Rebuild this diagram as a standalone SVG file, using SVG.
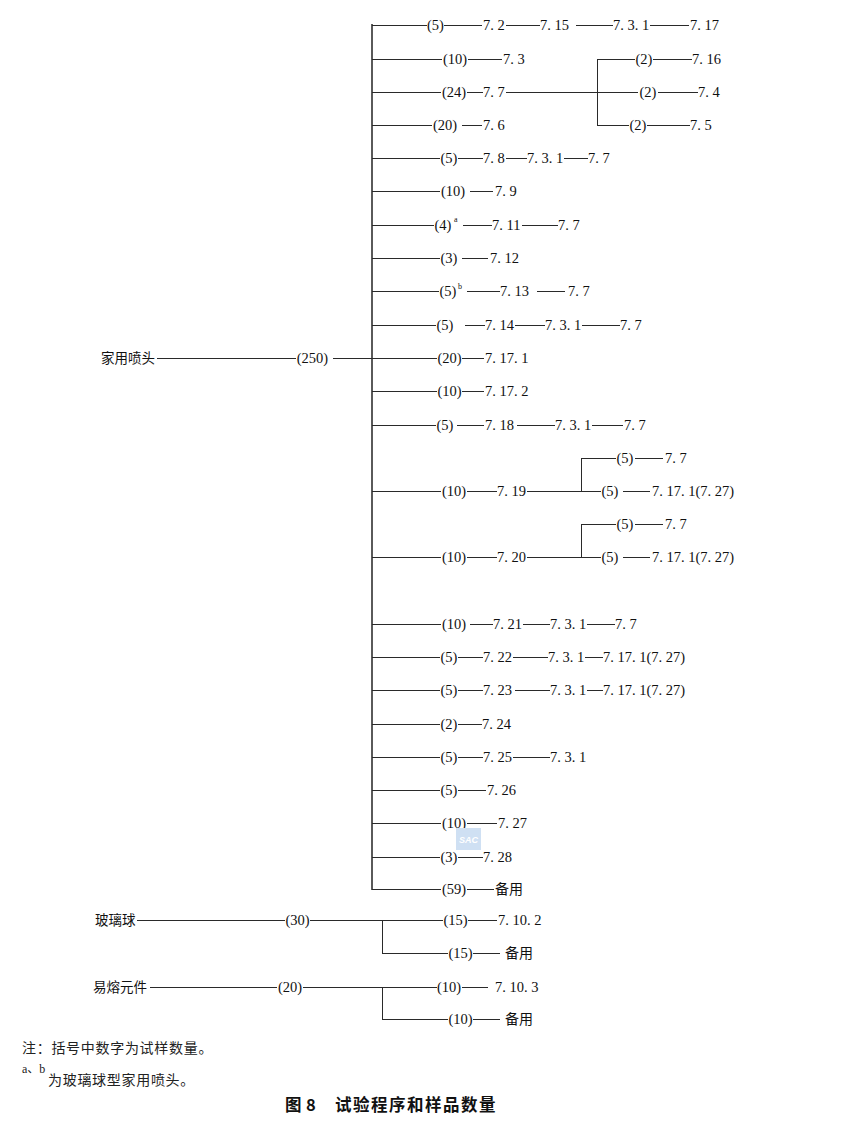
<svg xmlns="http://www.w3.org/2000/svg" width="852" height="1123" viewBox="0 0 852 1123">
<style>
.ln{stroke:#2a2a2a;stroke-width:1;fill:none}
.tr{stroke:#5a5a5a;stroke-width:2;fill:none}
.n{font-family:"Liberation Serif",serif;font-size:14.5px;fill:#111}
.c{text-anchor:middle}
.sup{font-family:"Liberation Serif",serif;font-size:8px;fill:#111}
.cj{font-family:"Liberation Serif","Noto Sans CJK SC",sans-serif;font-size:13.5px;fill:#111}
.by{font-family:"Liberation Serif","Noto Sans CJK SC",sans-serif;font-size:14px;fill:#111}
.note{font-family:"Noto Sans CJK SC",sans-serif;font-size:14px;fill:#222;letter-spacing:0.7px}
.ttl{font-family:"Noto Sans CJK SC",sans-serif;font-size:16.5px;fill:#111;font-weight:bold}
</style>
<rect width="852" height="1123" fill="#fff"/>
<g id="connectors">
<path class="tr" d="M372 24V890"/>
<g transform="translate(0,0.5)">
<path class="ln" d="M372 25H427M444 25H482M506 25H540M576 25H613M650 25H689"/>
<path class="ln" d="M372 59H442M468 59H502"/>
<path class="ln" d="M372 92H441M467 92H483M506 92H638M658 92H698"/>
<path class="ln" d="M597.5 59V125M597 59H635M653 59H692M597 125H629M647 125H690"/>
<path class="ln" d="M372 125H432M462 125H482"/>
<path class="ln" d="M372 158H440M458 158H483M506 158H527M564 158H588"/>
<path class="ln" d="M372 191H440M470 191H493"/>
<path class="ln" d="M372 225H434M463 225H492M522 225H558"/>
<path class="ln" d="M372 258H440M462 258H488"/>
<path class="ln" d="M372 291H439M467 291H500M537 291H565"/>
<path class="ln" d="M372 325H436M465 325H485M515 325H545M582 325H620"/>
<path class="ln" d="M157 358H296M333 358H437M462 358H484"/>
<path class="ln" d="M372 391H437M462 391H484"/>
<path class="ln" d="M372 425H436M457 425H484M517 425H555M592 425H623"/>
<path class="ln" d="M372 491H441M467 491H497M527 491H581M581.5 458V491M581 458H616M635 458H663M581 491H601M623 491H650"/>
<path class="ln" d="M372 557H441M467 557H497M527 557H581M581.5 524V557M581 524H616M635 524H663M581 557H601M623 557H650"/>
<path class="ln" d="M372 624H441M470 624H493M523 624H550M587 624H615"/>
<path class="ln" d="M372 657H440M458 657H483M513 657H548M585 657H603"/>
<path class="ln" d="M372 690H440M458 690H483M515 690H550M587 690H603"/>
<path class="ln" d="M372 724H440M458 724H482"/>
<path class="ln" d="M372 757H440M458 757H483M513 757H550"/>
<path class="ln" d="M372 790H440M458 790H486"/>
<path class="ln" d="M372 823H441M467 823H497"/>
<path class="ln" d="M372 857H440M458 857H483"/>
<path class="ln" d="M372 889H441M467 889H494"/>
<path class="ln" d="M137 920H285M310 920H443M468 920H497M382.5 920V953M382 953H448M473 953H500"/>
<path class="ln" d="M150 987H277M303 987H437M462 987H488M382.5 987V1019M382 1019H448M473 1019H500"/>
</g>
</g>
<g id="r1"><text class="n c" x="435.5" y="30">(5)</text><text class="n" x="483" y="30">7. 2</text><text class="n" x="540" y="30">7. 15</text><text class="n" x="613" y="30">7. 3. 1</text><text class="n" x="690" y="30">7. 17</text></g>
<g id="r2"><text class="n c" x="455" y="64">(10)</text><text class="n" x="503" y="64">7. 3</text></g>
<g id="r3"><text class="n c" x="454" y="97">(24)</text><text class="n" x="483" y="97">7. 7</text></g>
<g id="r3a"><text class="n c" x="644" y="64">(2)</text><text class="n" x="692" y="64">7. 16</text></g>
<g id="r3b"><text class="n c" x="648" y="97">(2)</text><text class="n" x="698" y="97">7. 4</text></g>
<g id="r3c"><text class="n c" x="638" y="130">(2)</text><text class="n" x="690" y="130">7. 5</text></g>
<g id="r4"><text class="n c" x="445" y="130">(20)</text><text class="n" x="483" y="130">7. 6</text></g>
<g id="r5"><text class="n c" x="449" y="163">(5)</text><text class="n" x="483" y="163">7. 8</text><text class="n" x="527" y="163">7. 3. 1</text><text class="n" x="588" y="163">7. 7</text></g>
<g id="r6"><text class="n c" x="453" y="196">(10)</text><text class="n" x="495" y="196">7. 9</text></g>
<g id="r7"><text class="n c" x="443" y="230">(4)</text><text class="sup" x="454" y="222">a</text><text class="n" x="492" y="230">7. 11</text><text class="n" x="558" y="230">7. 7</text></g>
<g id="r8"><text class="n c" x="449" y="263">(3)</text><text class="n" x="490" y="263">7. 12</text></g>
<g id="r9"><text class="n c" x="448" y="296">(5)</text><text class="sup" x="458" y="289">b</text><text class="n" x="500" y="296">7. 13</text><text class="n" x="568" y="296">7. 7</text></g>
<g id="r10"><text class="n c" x="445" y="330">(5)</text><text class="n" x="485" y="330">7. 14</text><text class="n" x="545" y="330">7. 3. 1</text><text class="n" x="620" y="330">7. 7</text></g>
<g id="root1"><text class="cj" x="101" y="363">家用喷头</text></g>
<g id="n250"><text class="n c" x="312.5" y="363">(250)</text></g>
<g id="r11"><text class="n c" x="449.5" y="363">(20)</text><text class="n" x="485" y="363">7. 17. 1</text></g>
<g id="r12"><text class="n c" x="449.5" y="396">(10)</text><text class="n" x="485" y="396">7. 17. 2</text></g>
<g id="r13"><text class="n c" x="445" y="430">(5)</text><text class="n" x="485" y="430">7. 18</text><text class="n" x="555" y="430">7. 3. 1</text><text class="n" x="624" y="430">7. 7</text></g>
<g id="r14"><text class="n c" x="454" y="496">(10)</text><text class="n" x="497" y="496">7. 19</text></g>
<g id="r14a"><text class="n c" x="625" y="463">(5)</text><text class="n" x="665" y="463">7. 7</text></g>
<g id="r14b"><text class="n c" x="610" y="496">(5)</text><text class="n" x="652" y="496">7. 17. 1(7. 27)</text></g>
<g id="r15"><text class="n c" x="454" y="562">(10)</text><text class="n" x="497" y="562">7. 20</text></g>
<g id="r15a"><text class="n c" x="625" y="529">(5)</text><text class="n" x="665" y="529">7. 7</text></g>
<g id="r15b"><text class="n c" x="610" y="562">(5)</text><text class="n" x="652" y="562">7. 17. 1(7. 27)</text></g>
<g id="r16"><text class="n c" x="454" y="629">(10)</text><text class="n" x="493" y="629">7. 21</text><text class="n" x="550" y="629">7. 3. 1</text><text class="n" x="615" y="629">7. 7</text></g>
<g id="r17"><text class="n c" x="449" y="662">(5)</text><text class="n" x="483" y="662">7. 22</text><text class="n" x="548" y="662">7. 3. 1</text><text class="n" x="603" y="662">7. 17. 1(7. 27)</text></g>
<g id="r18"><text class="n c" x="449" y="695">(5)</text><text class="n" x="483" y="695">7. 23</text><text class="n" x="550" y="695">7. 3. 1</text><text class="n" x="603" y="695">7. 17. 1(7. 27)</text></g>
<g id="r19"><text class="n c" x="449" y="729">(2)</text><text class="n" x="482" y="729">7. 24</text></g>
<g id="r20"><text class="n c" x="449" y="762">(5)</text><text class="n" x="483" y="762">7. 25</text><text class="n" x="550" y="762">7. 3. 1</text></g>
<g id="r21"><text class="n c" x="449" y="795">(5)</text><text class="n" x="487" y="795">7. 26</text></g>
<g id="r22"><text class="n c" x="454" y="828">(10)</text><text class="n" x="498" y="828">7. 27</text></g>
<g id="r23"><text class="n c" x="449" y="862">(3)</text><text class="n" x="483" y="862">7. 28</text></g>
<g id="r24"><text class="n c" x="454" y="894">(59)</text><text class="by" x="495" y="894">备用</text></g>
<g id="root2"><text class="cj" x="95" y="925">玻璃球</text><text class="n c" x="297.5" y="925">(30)</text></g>
<g id="r25a"><text class="n c" x="455.5" y="925">(15)</text><text class="n" x="498" y="925">7. 10. 2</text></g>
<g id="r25b"><text class="n c" x="460.5" y="958">(15)</text><text class="by" x="505" y="958">备用</text></g>
<g id="root3"><text class="cj" x="93" y="992">易熔元件</text><text class="n c" x="290" y="992">(20)</text></g>
<g id="r26a"><text class="n c" x="449" y="992">(10)</text><text class="n" x="495" y="992">7. 10. 3</text></g>
<g id="r26b"><text class="n c" x="460.5" y="1024">(10)</text><text class="by" x="505" y="1024">备用</text></g>
<g id="watermark"><rect x="456" y="828" width="25" height="22" fill="#cfe0f3"/><text x="468.5" y="843" text-anchor="middle" font-family="Liberation Sans,sans-serif" font-size="9" font-weight="bold" font-style="italic" fill="#fff">SAC</text></g>
<g id="notes">
<text class="note" x="22" y="1053">注：括号中数字为试样数量。</text>
<text x="22" y="1073" font-family="Liberation Serif,Noto Sans CJK SC,serif" font-size="12" fill="#222">a、b</text>
<text class="note" x="48" y="1085">为玻璃球型家用喷头。</text>
</g>
<g id="title">
<text class="ttl" x="285" y="1111">图</text>
<text class="ttl" x="306" y="1111" font-family="Liberation Sans,sans-serif">8</text>
<text class="ttl" x="335" y="1111" letter-spacing="1.5">试验程序和样品数量</text>
</g>
</svg>
